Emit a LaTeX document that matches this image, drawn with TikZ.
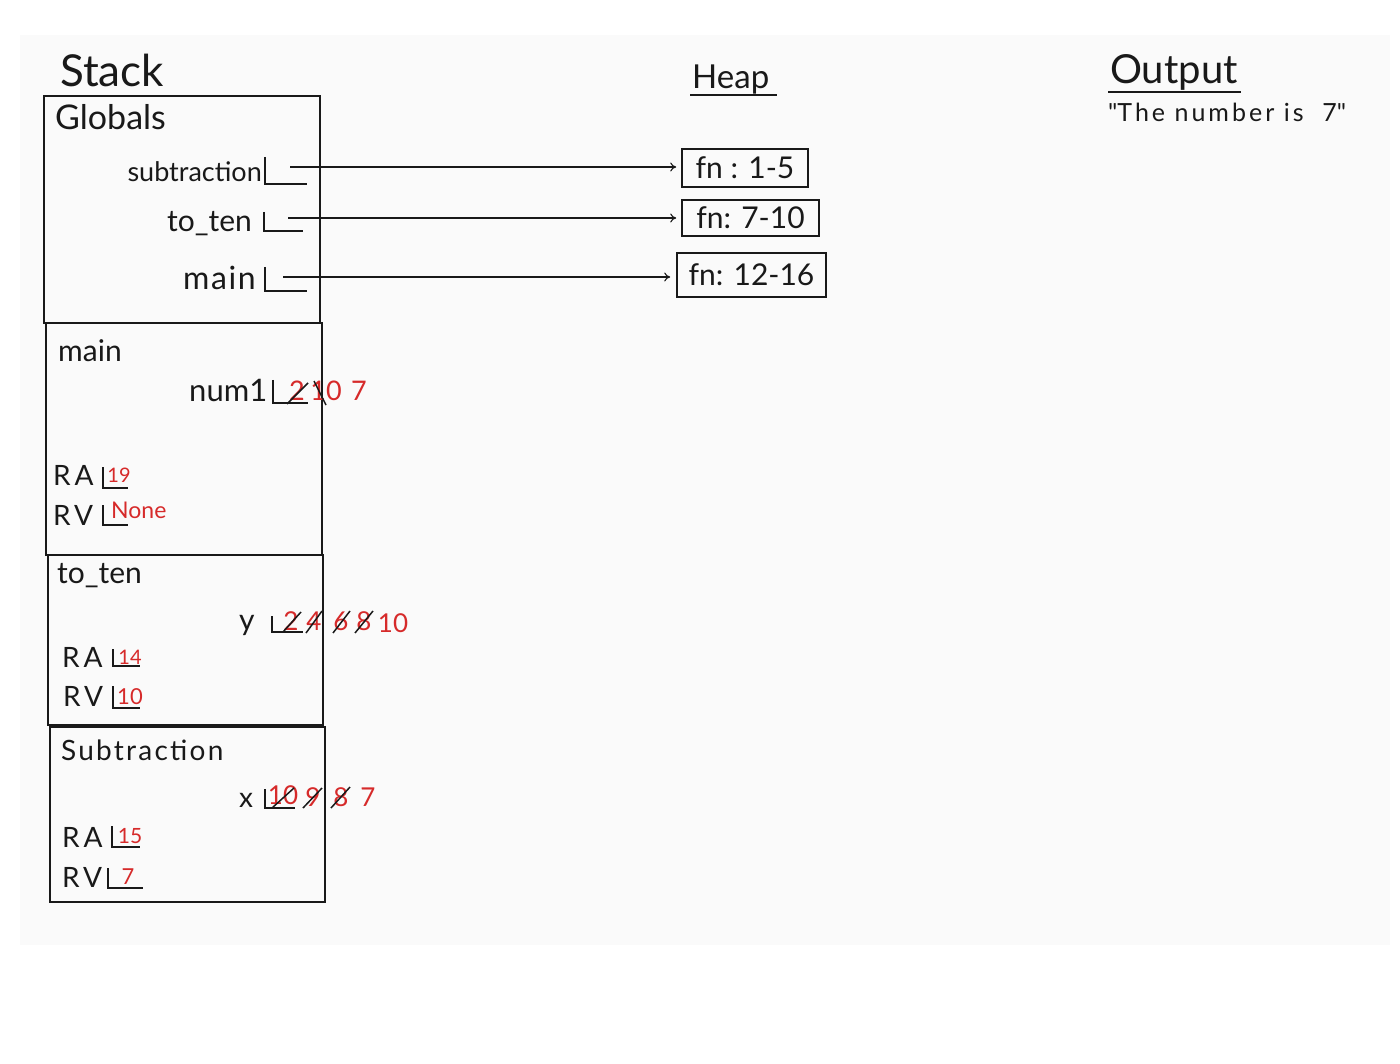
\documentclass[tikz,border=0pt]{standalone}
\usepackage{fontspec}
\usetikzlibrary{arrows.meta}
\setmainfont{Lato}
\definecolor{hred}{RGB}{214,42,42}
\definecolor{bgray}{RGB}{250,250,250}
\definecolor{ink}{RGB}{25,25,25}
\newcommand{\fsz}[1]{\fontsize{#1}{#1}\selectfont}
\newcommand{\spc}[1]{\addfontfeature{LetterSpace=#1}}
\tikzset{
  frame/.style={draw=ink, line width=1.6pt},
  txt/.style={inner sep=0pt, anchor=base west, text=ink},
  rtxt/.style={inner sep=0pt, anchor=base east, text=ink},
  val/.style={inner sep=0pt, anchor=base, text=hred},
  slot/.style={draw=ink, line width=2pt},
  strike/.style={draw=ink, line width=1.5pt},
  arr/.style={draw=ink, line width=1.1pt, shorten >=5pt, -{To[length=6pt,width=9pt]}},
  heapbox/.style={draw=ink, line width=1.6pt, inner sep=0pt, text=ink, font=\fsz{30}},
  uline/.style={draw=ink, line width=1.6pt}
}
\begin{document}
\begin{tikzpicture}[x=1pt,y=-1pt]
\useasboundingbox (0,0) rectangle (1400,1064);
\fill[bgray] (20,35) rectangle (1390,945);

% titles
\node[txt, font=\fsz{44}] (stack) at (60,87) {Stack};
\node[txt, font=\fsz{33}] (heap) at (692,89) {Heap};
\draw[uline] (690,95) -- (777,95);
\node[txt, font=\fsz{40}] (output) at (1110,84) {Output};
\draw[uline] (1108,92) -- (1241,92);
\node[txt, font=\fsz{25}\spc{12}] (outtext) at (1108,122) {\textquotedbl The number is\ \ 7\textquotedbl};

% frames
\draw[frame] (44,96) rectangle (320,323);
\draw[frame] (46,323) rectangle (322,555);
\draw[frame] (48,555) rectangle (323,725);
\draw[frame] (50,727) rectangle (325,902);

% Globals
\node[txt, font=\fsz{34}] (glob) at (55,130) {Globals};
\node[rtxt, font=\fsz{27}] (gsub) at (262,182) {subtraction};
\node[rtxt, font=\fsz{30}] (gten) at (252,232) {to\_ten};
\node[rtxt, font=\fsz{32}\spc{5}] (gmain) at (256,290) {main};
\draw[slot] (265,157) |- (307,184);
\draw[slot] (264,212) |- (303,231);
\draw[slot] (265,267) |- (307,291);
\coordinate (sA) at (290,167);
\coordinate (sB) at (288,218);
\coordinate (sC) at (283,277);

% Heap
\node[heapbox, minimum width=126pt, minimum height=38pt] (h1) at (745,168) {fn : 1-5};
\node[heapbox, minimum width=137pt, minimum height=36pt] (h2) at (750.5,218) {fn: 7-10};
\node[heapbox, minimum width=149pt, minimum height=44pt] (h3) at (751.5,275) {fn: 12-16};
\draw[arr] (sA) -- (sA -| h1.west);
\draw[arr] (sB) -- (sB -| h2.west);
\draw[arr, shorten >=6pt] (sC) -- (sC -| h3.west);

% main frame
\node[txt, font=\fsz{30}] (mname) at (58,362) {main};
\node[txt, font=\fsz{31}] (mnum) at (189,402) {num1};
\draw[slot] (273,380) |- (308,403);
\node[val, font=\fsz{27}] (mv1) at (297,400) {2};
\draw[strike] (287,404) -- (308,383);
\node[val, font=\fsz{27}] (mv2) at (326,400) {10};
\draw[strike] (314,381) -- (326,405);
\node[val, font=\fsz{27}] (mv3) at (359,400) {7};
\node[txt, font=\fsz{28}\spc{14}] (mra) at (53,485) {RA};
\draw[slot] (103,467) |- (128,488);
\node[val, font=\fsz{20}] (mrav) at (119,482) {19};
\node[txt, font=\fsz{28}\spc{14}] (mrv) at (53,525) {RV};
\draw[slot] (103,505) |- (128,525);
\node[val, font=\fsz{23}, anchor=base west] (mrvv) at (111,518) {None};

% to_ten frame
\node[txt, font=\fsz{30}] (tname) at (57,583) {to\_ten};
\node[txt, font=\fsz{30}] (ty) at (239,630) {y};
\draw[slot] (272,616) |- (303,632);
\node[val, font=\fsz{26}] (tv1) at (291,630) {2};
\draw[strike] (283,632) -- (301,612);
\node[val, font=\fsz{26}] (tv2) at (314,630) {4};
\draw[strike] (306,633) -- (322,611);
\node[val, font=\fsz{26}] (tv3) at (341,630) {6};
\draw[strike] (333,633) -- (350,611);
\node[val, font=\fsz{26}] (tv4) at (364,630) {8};
\draw[strike] (355,633) -- (373,611);
\node[val, font=\fsz{26}] (tv5) at (393,632) {10};
\node[txt, font=\fsz{28}\spc{14}] (tra) at (62,667) {RA};
\draw[slot] (113,649) |- (140,666);
\node[val, font=\fsz{20}] (trav) at (130,664) {14};
\node[txt, font=\fsz{28}\spc{14}] (trv) at (63,706) {RV};
\draw[slot] (113,686) |- (140,708);
\node[val, font=\fsz{22}] (trvv) at (130,704) {10};

% subtraction frame
\node[txt, font=\fsz{28}\spc{8}] (sname) at (61,760) {Subtraction};
\node[txt, font=\fsz{28}] (sx) at (239,807) {x};
\draw[slot] (265,789) |- (295,808);
\node[val, font=\fsz{26}] (sv1) at (283,804) {10};
\draw[strike] (272,808) -- (294,788);
\node[val, font=\fsz{26}] (sv2) at (313,806) {9};
\draw[strike] (303,808) -- (322,788);
\node[val, font=\fsz{26}] (sv3) at (341,806) {8};
\draw[strike] (331,808) -- (350,787);
\node[val, font=\fsz{26}] (sv4) at (368,806) {7};
\node[txt, font=\fsz{28}\spc{14}] (sra) at (62,847) {RA};
\draw[slot] (112,826) |- (140,847);
\node[val, font=\fsz{21}] (srav) at (130,843) {15};
\node[txt, font=\fsz{28}\spc{14}] (srv) at (62,887) {RV};
\draw[slot] (108,868) |- (143,888);
\node[val, font=\fsz{22}] (srvv) at (128,884) {7};
\end{tikzpicture}
\end{document}
